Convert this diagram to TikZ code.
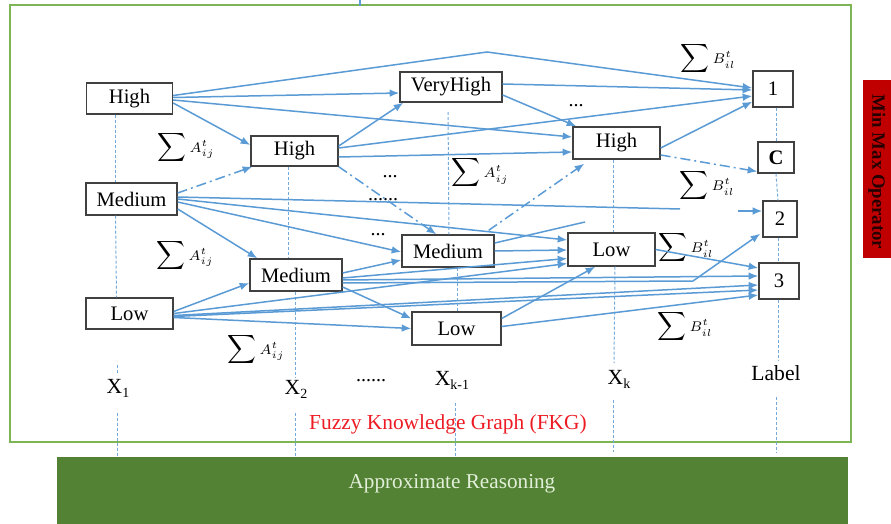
\documentclass[tikz,border=0pt]{standalone}
\usepackage{fontspec}
\setmainfont{Liberation Serif}
\usetikzlibrary{arrows.meta}
\definecolor{lblue}{RGB}{91,155,213}
\definecolor{frameg}{RGB}{125,180,85}
\definecolor{darkg}{RGB}{84,130,53}
\definecolor{lightg}{RGB}{226,239,217}
\definecolor{mred}{RGB}{192,0,0}
\definecolor{fkgred}{RGB}{237,28,36}
\newcommand\sumA{$\displaystyle\sum\nolimits{\scriptstyle A^{t}_{ij}}$}
\newcommand\sumB{$\displaystyle\sum\nolimits{\scriptstyle B^{t}_{il}}$}
\begin{document}
\begin{tikzpicture}[x=0.5pt,y=-0.5pt,
 fbox/.style={draw=black!75,line width=0.7pt,fill=white,inner sep=0pt,font=\fontsize{10.3}{12}\selectfont},
 arr/.style={draw=lblue,line width=0.75pt,-{Latex[length=4.8pt,width=3.8pt]}},
 ln/.style={draw=lblue,line width=0.75pt},
 dd/.style={arr,dash pattern=on 5pt off 2pt on 1pt off 2pt},
 vdash/.style={draw=lblue!85,line width=0.5pt,dash pattern=on 1.5pt off 1pt},
 lab/.style={font=\fontsize{10.8}{12}\selectfont,inner sep=0pt},
 sumlab/.style={inner sep=0pt,font=\fontsize{10.4}{12}\selectfont},
 dots/.style={inner sep=0pt,font=\fontsize{10}{12}\selectfont}]
\useasboundingbox (0,0) rectangle (891,524);
\fill[white] (0,0) rectangle (891,524);
% frame and bars
\draw[frameg,line width=1.2pt] (10,5) rectangle (851,442);
\node[fill=darkg,minimum width=395.5pt,minimum height=33.5pt,inner sep=0pt] (AR) at (452.5,490.5) {};
\node[text=lightg,font=\fontsize{10.6}{12}\selectfont,inner sep=0pt] (ART) at (452,484) {Approximate Reasoning};
\node[fill=mred,minimum width=14pt,minimum height=89pt,inner sep=0pt] (MM) at (877,169) {};
\node[rotate=-90,font=\bfseries\fontsize{9.4}{11}\selectfont,text=black!85!red,inner sep=0pt] (MMT) at (877,172) {Min Max Operator};
\coordinate (tk1) at (360,0); \coordinate (tk2) at (360,6);
\draw[lblue,line width=1pt] (tk1) -- (tk2);
% nodes
\node[fbox,minimum width=43pt,minimum height=15.5pt] (H1) at (129.5,98.5) {High};
\node[fbox,minimum width=45.5pt,minimum height=16pt] (M1) at (131.5,199) {Medium};
\node[fbox,minimum width=43.5pt,minimum height=15.5pt] (L1) at (129.5,313.5) {Low};
\node[fbox,minimum width=43.5pt,minimum height=15pt] (H2) at (294.5,151) {High};
\node[fbox,minimum width=46pt,minimum height=16pt] (M2) at (296,275) {Medium};
\node[fbox,minimum width=51pt,minimum height=15pt] (VH) at (451,87) {VeryHigh};
\node[fbox,minimum width=46pt,minimum height=16pt] (M3) at (448,251) {Medium};
\node[fbox,minimum width=44.5pt,minimum height=16.5pt] (L3) at (456.5,328.5) {Low};
\node[fbox,minimum width=43.5pt,minimum height=16pt] (H4) at (616.5,143) {High};
\node[fbox,minimum width=43.5pt,minimum height=16.5pt] (L4) at (611.5,249.5) {Low};
\node[fbox,minimum width=20pt,minimum height=18pt] (B1) at (773,89) {1};
\node[fbox,minimum width=18pt,minimum height=15.5pt,font=\bfseries\fontsize{10.3}{12}\selectfont] (BC) at (776,157.5) {C};
\node[fbox,minimum width=17pt,minimum height=18pt] (B2) at (780,219) {2};
\node[fbox,minimum width=20pt,minimum height=18pt] (B3) at (779,281) {3};
% labels
\node[lab] (X1) at (118,388) {X\raisebox{-0.4ex}{\scriptsize 1}};
\node[lab] (X2) at (296,389) {X\raisebox{-0.4ex}{\scriptsize 2}};
\node[dots] (D0) at (371,381) {......};
\node[lab] (XK1) at (452,380) {X\raisebox{-0.4ex}{\scriptsize k-1}};
\node[lab] (XK) at (619,379) {X\raisebox{-0.4ex}{\scriptsize k}};
\node[lab] (LB) at (776,373) {Label};
\node[text=fkgred,font=\fontsize{10.7}{12}\selectfont,inner sep=0pt] (FKG) at (448,424) {Fuzzy Knowledge Graph (FKG)};
\node[sumlab] (SA1) at (186,148) {\sumA};
\node[sumlab] (SA2) at (185,256) {\sumA};
\node[sumlab] (SA3) at (256,350) {\sumA};
\node[sumlab] (SA4) at (480,173) {\sumA};
\node[sumlab] (SB1) at (708,59) {\sumB};
\node[sumlab] (SB2) at (707,186) {\sumB};
\node[sumlab] (SB3) at (686,248) {\sumB};
\node[sumlab] (SB4) at (685,327) {\sumB};
\node[dots] (D1) at (576,106) {...};
\node[dots] (D2) at (390,177) {...};
\node[dots] (D3) at (383,200) {......};
\node[dots] (D4) at (378,235) {...};
% vertical dashed guides
\coordinate (c1a) at (117,365); \coordinate (c1b) at (117,373);
\coordinate (c1c) at (117,413); \coordinate (c1d) at (117,457);
\draw[vdash] ([xshift=-7pt]H1.south) -- ([xshift=-8pt]M1.north);
\draw[vdash] ([xshift=-8pt]M1.south) -- ([xshift=-6.5pt]L1.north);
\draw[vdash] (c1a) -- (c1b);
\draw[vdash] (c1c) -- (c1d);
\coordinate (c2a) at (295,377); \coordinate (c2c) at (295,413); \coordinate (c2d) at (295,457);
\draw[vdash] ([xshift=-3.25pt]H2.south) -- ([xshift=-4pt]M2.north);
\draw[vdash] ([xshift=-0.5pt]M2.south) -- (c2a);
\draw[vdash] (c2c) -- (c2d);
\coordinate (c3a) at (448,112); \coordinate (c3c) at (455,403); \coordinate (c3d) at (455,457);
\draw[vdash] (c3a) -- ([xshift=0.5pt]M3.north);
\draw[vdash] ([xshift=4.5pt]M3.south) -- ([xshift=0.25pt]L3.north);
\draw[vdash] (c3c) -- (c3d);
\coordinate (c4a) at (614,363); \coordinate (c4c) at (613,400); \coordinate (c4d) at (613,452);
\draw[vdash] ([xshift=-1.75pt]H4.south) -- ([xshift=0.75pt]L4.north);
\draw[vdash] ([xshift=1.75pt]L4.south) -- (c4a);
\draw[vdash] (c4c) -- (c4d);
\coordinate (c5a) at (778,360); \coordinate (c5c) at (776,397); \coordinate (c5d) at (776,453);
\draw[vdash] ([xshift=1.5pt]B1.south) -- (BC.north);
\draw[vdash] (BC.south) -- ([xshift=-1pt]B2.north);
\draw[vdash] ([xshift=-1pt]B2.south) -- ([xshift=-0.5pt]B3.north);
\draw[vdash] ([xshift=-0.5pt]B3.south) -- (c5a);
\draw[vdash] (c5c) -- (c5d);
% free ends
\coordinate (k1) at (487,52);
\coordinate (k2) at (693,281);
\coordinate (e1) at (680,209);
\coordinate (s2) at (738,211);
\coordinate (f1) at (585,222);
% arrows from High (X1)
\draw[arr] ([yshift=0.5pt]H1.east) -- ([yshift=-3pt]VH.west);
\draw[arr] ([yshift=1.5pt]H1.east) -- (k1) -- ([yshift=0.5pt]B1.west);
\draw[arr] ([yshift=-0.75pt]H1.east) -- ([yshift=3pt]H4.west);
\draw[arr] ([yshift=-2.25pt]H1.east) -- ([yshift=3pt]H2.west);
% VeryHigh
\draw[arr] ([yshift=1.5pt]VH.east) -- ([yshift=-0.5pt]B1.west);
\draw[arr] ([yshift=-4pt]VH.east) -- ([xshift=2pt]H4.north west);
% High (X2)
\draw[arr] ([yshift=2.5pt]H2.east) -- ([xshift=2pt]VH.south west);
\draw[arr] ([yshift=1.5pt]H2.east) -- ([yshift=-3.5pt]B1.west);
\draw[arr] ([yshift=-3pt]H2.east) -- ([yshift=-4.5pt]H4.west);
\draw[dd] (H2.south east) -- ([xshift=17.5pt]M3.north west);
% Medium (X1)
\draw[dd] ([yshift=3pt]M1.east) -- ([xshift=1pt]H2.south west);
\draw[ln] ([yshift=1pt]M1.east) -- (e1);
\draw[arr] (s2) -- ([yshift=4pt]B2.west);
\draw[arr] ([yshift=0pt]M1.east) -- ([yshift=4.75pt]L4.west);
\draw[arr] ([yshift=-1.5pt]M1.east) -- ([yshift=-0.5pt]M3.west);
\draw[arr] ([yshift=-5pt]M1.east) -- ([xshift=4pt]M2.north west);
% Medium (Xk-1)
\draw[dd] ([xshift=-3pt,yshift=2pt]M3.north east) -- ([xshift=6pt,yshift=-2pt]H4.south west);
\draw[arr] (M3.east) -- ([yshift=-0.25pt]L4.west);
\draw[ln] ([yshift=4pt]M3.east) -- (f1);
% Medium (X2)
\draw[arr] ([yshift=1pt]M2.east) -- ([yshift=-4.5pt]M3.west);
\draw[arr] ([yshift=-6pt]M2.east) -- ([yshift=5pt]L3.west);
\draw[arr] ([yshift=-1.5pt]M2.east) -- ([yshift=-4.5pt]L4.west);
\draw[arr] ([yshift=-2.5pt]M2.east) -- ([yshift=2.5pt]B3.west);
\draw[arr] ([yshift=-4pt]M2.east) -- (k2) -- ([xshift=-1pt,yshift=2pt]B2.south west);
% Low (Xk-1)
\draw[arr] ([yshift=5pt]L3.east) -- ([xshift=14pt]L4.south west);
\draw[arr] ([yshift=1pt]L3.east) -- ([yshift=-7pt]B3.west);
% Low (Xk), High (Xk)
\draw[arr] (L4.east) -- ([yshift=6.5pt]B3.west);
\draw[arr] ([yshift=-2.5pt]H4.east) -- ([yshift=3pt]B1.south west);
\draw[dd] ([yshift=-6pt]H4.east) -- ([yshift=-7pt]BC.west);
% Low (X1)
\draw[arr] ([yshift=1pt]L1.east) -- ([yshift=-4pt]M2.west);
\draw[arr] ([yshift=-2pt]L1.east) -- (L3.west);
\draw[arr] ([yshift=0pt]L1.east) -- ([yshift=-7pt]L4.west);
\draw[arr] ([yshift=-1pt]L1.east) -- ([yshift=-2pt]B3.west);
\draw[arr] ([yshift=-1.5pt]L1.east) -- ([yshift=-4.5pt]B3.west);
\end{tikzpicture}
\end{document}
